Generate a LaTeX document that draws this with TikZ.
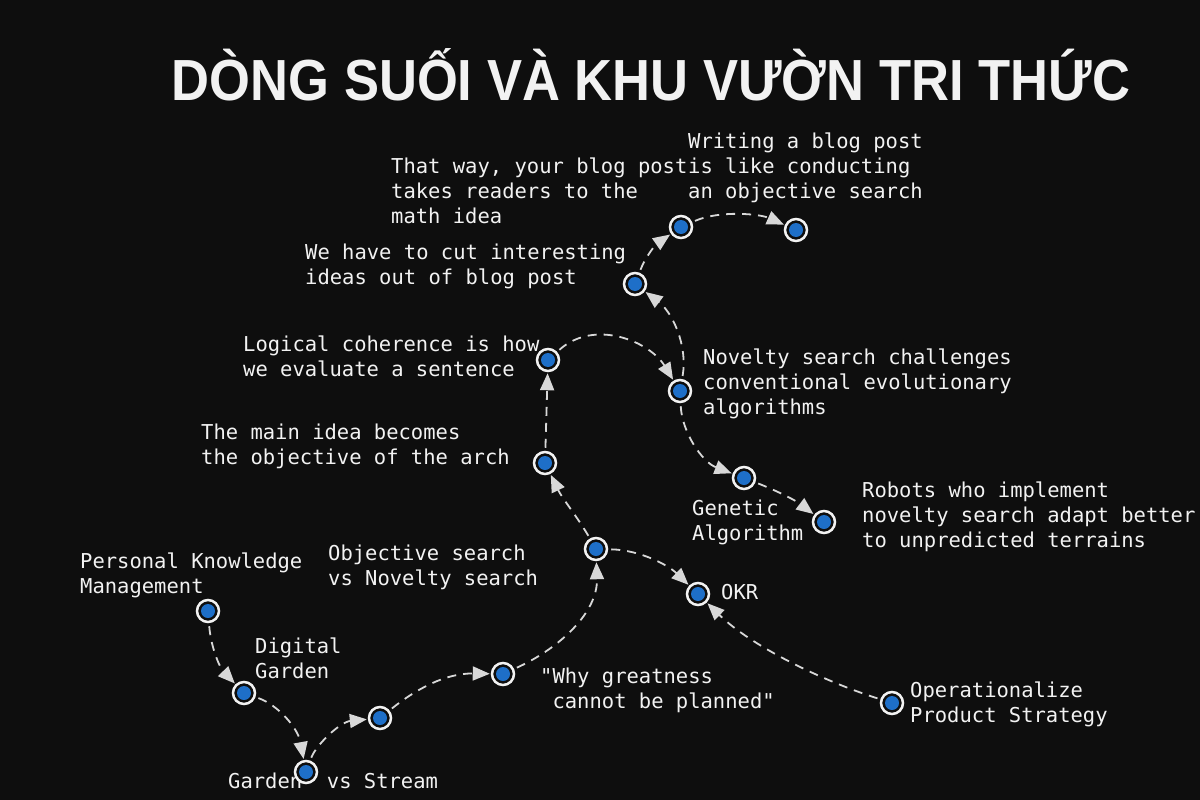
\documentclass[tikz,border=0pt]{standalone}
\usepackage{fontspec}
\usepackage{graphicx}
\setmonofont{DejaVu Sans Mono}
\newfontfamily\titlefont{Liberation Sans}
\usetikzlibrary{arrows.meta}
\definecolor{bg}{HTML}{0E0E0E}
\definecolor{ink}{HTML}{F2F2F2}
\definecolor{edgecol}{HTML}{D8D8D8}
\definecolor{dotblue}{HTML}{1E6FC8}
\newcommand{\mlines}[1]{\begin{tabular}[t]{@{}l@{}}#1\end{tabular}}
\begin{document}
\begin{tikzpicture}[x=1pt,y=-1pt,
  lbl/.style={text=ink, inner sep=0pt, anchor=base west,
    font=\ttfamily\fontsize{20.5}{25}\selectfont},
  dotnode/.style={circle, draw=ink, line width=2.5pt, fill=bg,
    minimum size=22pt, inner sep=0pt,
    path picture={\fill[dotblue] (path picture bounding box.center) circle (7pt);}},
  flow/.style={draw=edgecol, line width=1.8pt, dash pattern=on 9pt off 7pt,
    -{Triangle[length=17pt,width=14pt]}, shorten >=1pt, shorten <=3pt}
]
\fill[bg] (0,0) rectangle (1200,800);
\path[use as bounding box] (0,0) rectangle (1200,800);

% title
\node[text=ink, inner sep=0pt, anchor=base] (title) at (651,100)
  {\resizebox{958pt}{\height}{\titlefont\bfseries\fontsize{58}{60}\selectfont DÒNG SUỐI VÀ KHU VƯỜN TRI THỨC}};

% labels
\node[lbl] (tpkm) at (80,568) {\mlines{Personal Knowledge\\Management}};
\node[lbl] (tdg) at (255,653) {\mlines{Digital\\Garden}};
\node[lbl] (tgvs) at (228,788) {Garden\ \ vs Stream};
\node[lbl] (twhy) at (540,683) {\mlines{"Why greatness\\\ cannot be planned"}};
\node[lbl] (tobj) at (328,560) {\mlines{Objective search\\vs Novelty search}};
\node[lbl] (tokr) at (721,599) {OKR};
\node[lbl] (top) at (910,697) {\mlines{Operationalize\\Product Strategy}};
\node[lbl] (tmain) at (201,439) {\mlines{The main idea becomes\\the objective of the arch}};
\node[lbl] (tlogic) at (243,351) {\mlines{Logical coherence is how\\we evaluate a sentence}};
\node[lbl] (tnov) at (703,364) {\mlines{Novelty search challenges\\conventional evolutionary\\algorithms}};
\node[lbl] (tgen) at (692,515) {\mlines{Genetic\\Algorithm}};
\node[lbl] (trob) at (862,497) {\mlines{Robots who implement\\novelty search adapt better\\to unpredicted terrains}};
\node[lbl] (tcut) at (305,259) {\mlines{We have to cut interesting\\ideas out of blog post}};
\node[lbl] (tway) at (391,173) {\mlines{That way, your blog post\\takes readers to the\\math idea}};
\node[lbl] (twrite) at (688,148) {\mlines{Writing a blog post\\is like conducting\\an objective search}};

% dots
\node[dotnode] (pkm) at (208,611) {};
\node[dotnode] (dg) at (244,693) {};
\node[dotnode] (gvs) at (306,772) {};
\node[dotnode] (n4) at (380,718) {};
\node[dotnode] (n5) at (503,674) {};
\node[dotnode] (obj) at (596,549) {};
\node[dotnode] (okr) at (698,594) {};
\node[dotnode] (op) at (892,703) {};
\node[dotnode] (main) at (545,463) {};
\node[dotnode] (logic) at (548,360) {};
\node[dotnode] (nov) at (680,391) {};
\node[dotnode] (gen) at (744,478) {};
\node[dotnode] (rob) at (824,522) {};
\node[dotnode] (cut) at (635,284) {};
\node[dotnode] (w1) at (681,227) {};
\node[dotnode] (w2) at (796,230) {};

% connectors
\draw[flow] (pkm) .. controls (211,648) and (220,668) .. (dg);
\draw[flow] (dg) .. controls (278,705) and (298,728) .. (gvs);
\draw[flow] (gvs) .. controls (316,745) and (340,722) .. (n4);
\draw[flow] (n4) .. controls (415,690) and (445,673) .. (n5);
\draw[flow] (n5) .. controls (560,648) and (598,612) .. (obj);
\draw[flow] (obj) .. controls (578,518) and (562,498) .. (main);
\draw[flow] (obj) .. controls (640,550) and (668,565) .. (okr);
\draw[flow] (op) .. controls (820,680) and (750,645) .. (okr);
\draw[flow] (main) -- (logic);
\draw[flow] (logic) .. controls (595,318) and (650,342) .. (nov);
\draw[flow] (nov) .. controls (688,345) and (672,312) .. (cut);
\draw[flow] (cut) .. controls (645,258) and (655,245) .. (w1);
\draw[flow] (w1) .. controls (720,210) and (760,214) .. (w2);
\draw[flow] (nov) .. controls (682,432) and (702,462) .. (gen);
\draw[flow] (gen) .. controls (775,490) and (795,500) .. (rob);
\end{tikzpicture}
\end{document}
